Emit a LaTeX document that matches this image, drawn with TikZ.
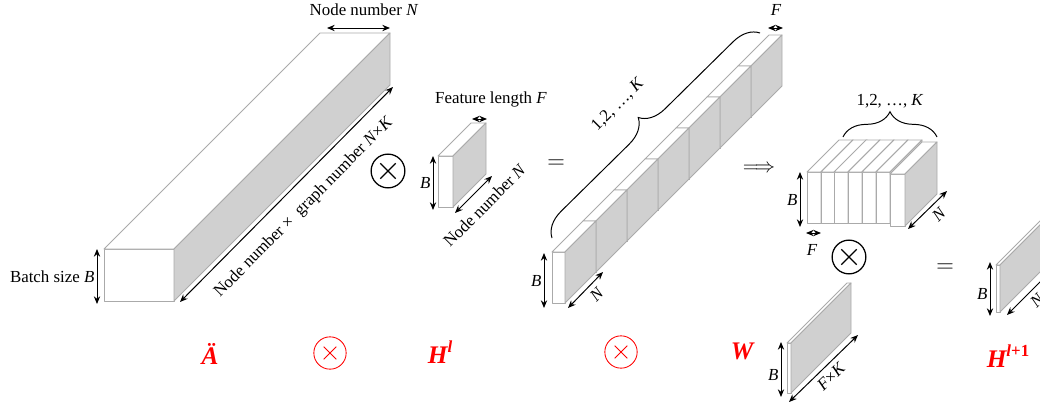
\documentclass[tikz,border=0pt]{standalone}
\usepackage{fontspec}
\setmainfont{Liberation Serif}
\usetikzlibrary{arrows.meta,decorations.pathreplacing}
\definecolor{edgegray}{RGB}{170,170,170}
\definecolor{facegray}{RGB}{208,208,208}

\begin{document}
\begin{tikzpicture}[x=0.025cm,y=-0.025cm,>={Stealth[length=5.5pt,width=4.5pt]},
 font=\fontsize{12}{14}\selectfont,
 face/.style={draw=edgegray,fill=white,line width=.6pt,line join=round},
 side/.style={draw=edgegray,fill=facegray,line width=.6pt,line join=round},
 pics/slab/.style args={#1/#2/#3}{code={
  \filldraw[face] (0,0) rectangle (#1,#2);
  \filldraw[face] (0,0) -- (#3,-#3) -- ({#1+#3},-#3) -- (#1,0) -- cycle;
  \filldraw[side] (#1,0) -- ({#1+#3},-#3) -- ({#1+#3},{#2-#3}) -- (#1,#2) -- cycle;}},
 dim/.style={<->,line width=.7pt},
 lbl/.style={inner sep=1.5pt},
 brc/.style={decorate,decoration={brace,amplitude=18pt},line width=.7pt},
 op/.style={circle,draw,line width=.9pt,minimum size=24pt,inner sep=0pt,
  path picture={\draw[line width=.9pt]
   ([shift={(-5.5pt,-5.5pt)}]path picture bounding box.center) -- ([shift={(5.5pt,5.5pt)}]path picture bounding box.center)
   ([shift={(-5.5pt,5.5pt)}]path picture bounding box.center) -- ([shift={(5.5pt,-5.5pt)}]path picture bounding box.center);}},
 rop/.style={circle,draw=red,line width=.6pt,minimum size=23pt,inner sep=0pt,
  path picture={\draw[red,line width=.6pt]
   ([shift={(-4.5pt,-4.5pt)}]path picture bounding box.center) -- ([shift={(4.5pt,4.5pt)}]path picture bounding box.center)
   ([shift={(-4.5pt,4.5pt)}]path picture bounding box.center) -- ([shift={(4.5pt,-4.5pt)}]path picture bounding box.center);}},
 redl/.style={red,font=\fontsize{18}{20}\selectfont\bfseries\itshape}]
\useasboundingbox (0,0) rectangle (1040,408);
\clip (0,0) rectangle (1040,408);
% tensors
\pic at (104,249) {slab={70/52/216}};
\pic at (438,156) {slab={15/51/33}};
\foreach \i in {6,5,...,0}
 \pic at ({552+31*\i},{252-31*\i}) {slab={13/51/31}};
\foreach \x in {807,821,834,848,862,876}
 \pic at (\x,172) {slab={14/51/32}};
\pic at (890,174) {slab={15/52/32}};
\pic at (787,343) {slab={4/50/60}};
\pic at (996,265) {slab={4/47/50}};
% sizes of A
\draw[dim] (97,249) -- (97,304) node[midway,left,lbl] (bsz) {Batch size \textit{B}};
\draw[dim] (327,28) -- (390,28);
\node (nn) at (364,10) {Node number \textit{N}};
\draw[dim] (180,302) -- (393,87) node[pos=.51,sloped,below=8pt,lbl] (nk) {Node number ×\ \ graph number \textit{N}×\textit{K}};
% sizes of H^l
\draw[dim] (472,119) -- (487,119);
\node (fl) at (491,99) {Feature length \textit{F}};
\draw[dim] (433,156) -- (433,210) node[midway,left,lbl] (b1) {\textit{B}};
\draw[dim] (455,213) -- (492,176) node[midway,sloped,below=5pt,lbl] (n1) {Node number \textit{N}};
% product
\draw[brc] (552,238) -- (760,33);
\node[rotate=45] (k1) at (618,105) {1,2, …, \textit{K}};
\draw[dim] (768,28) -- (783,28);
\node (f1) at (776,10) {\textit{F}};
\draw[dim] (544,253) -- (544,308) node[midway,left,lbl] (b2) {\textit{B}};
\draw[dim] (568,308) -- (603,272) node[pos=.6,sloped,below=2pt,lbl] (n2) {\textit{N}};
% stacked slices
\draw[brc] (843,137) -- (937,137);
\node (k2) at (890,101) {1,2, …, \textit{K}};
\draw[dim] (800,172) -- (800,227) node[midway,left,lbl] (b3) {\textit{B}};
\draw[dim] (806,233) -- (821,233);
\node (f2) at (812,250) {\textit{F}};
\draw[dim] (908,229) -- (947,191) node[pos=.6,sloped,below=2pt,lbl] (n3) {\textit{N}};
% weight and output
\draw[dim] (781,342) -- (781,397) node[pos=.6,left,lbl] (b4) {\textit{B}};
\draw[dim] (789,402) -- (858,335) node[midway,sloped,below=2pt,lbl] (fk) {\textit{F}×\textit{K}};
\draw[dim] (990,262) -- (990,316) node[pos=.6,left,lbl] (b5) {\textit{B}};
\draw[dim] (1007,315) -- (1052,270) node[midway,sloped,below=2pt,lbl] (n5) {\textit{N}};
% operators
\node[op] (x1) at (388,171) {};
\node (eq1) at (556,164) {\fontsize{18}{18}\selectfont$=$};
\node (imp) at (759,169) {\fontsize{15}{15}\selectfont$\Longrightarrow$};
\node[op] (x2) at (849,257) {};
\node (eq2) at (945,268) {\fontsize{18}{18}\selectfont$=$};
% formula
\node[redl] (A) at (210,354) {Ä};
\node[rop] (r1) at (330,353) {};
\node[redl] (Hl) at (440,352) {H\raisebox{.45em}{\fontsize{12}{12}\selectfont l}};
\node[rop] (r2) at (621,352) {};
\node[redl] (W) at (742,351) {W};
\node[redl] (Hn) at (1008,356) {H\raisebox{.45em}{\fontsize{12}{12}\selectfont l\textup{+1}}};
\end{tikzpicture}
\end{document}
